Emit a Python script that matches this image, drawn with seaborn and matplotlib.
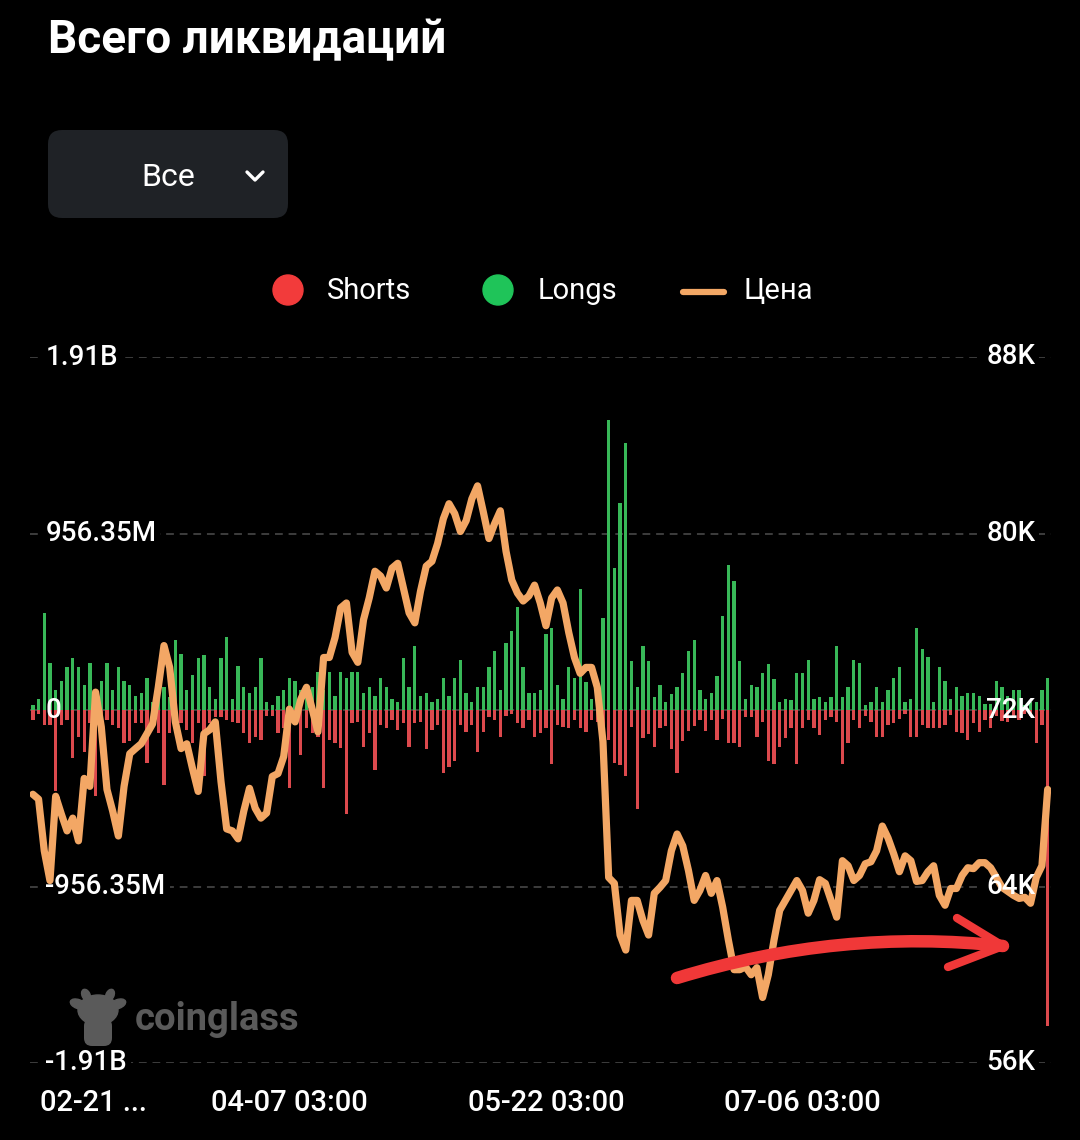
import numpy as np
import pandas as pd
import matplotlib
matplotlib.use("Agg")
import matplotlib.pyplot as plt
import seaborn as sns
from matplotlib.patches import FancyBboxPatch, Circle, Ellipse, PathPatch
from matplotlib.path import Path
from matplotlib.lines import Line2D
from matplotlib.transforms import Affine2D, blended_transform_factory, ScaledTranslation

# ---------------- data ----------------
title = "Всего ликвидаций"
selector = "Все"
legend_names = ["Shorts", "Longs", "Цена"]
x_tick_labels = ["02-21 ...", "04-07 03:00", "05-22 03:00", "07-06 03:00"]
left_tick_values = [1.9127e9, 956.35e6, 0, -956.35e6, -1.9127e9]
left_tick_labels = ["1.91B", "956.35M", "0", "-956.35M", "-1.91B"]
right_tick_values = [88000, 80000, 72000, 64000, 56000]
right_tick_labels = ["88K", "80K", "72K", "64K", "56K"]

# daily long liquidations, millions USD
longs_m = [25, 57, 527, 252, 106, 156, 235, 283, 235, 138,
           252, 115, 156, 252, 106, 235, 156, 138, 75, 90,
           172, 43, 124, 124, 70, 381, 303, 106, 188, 283,
           299, 124, 59, 283, 398, 59,
           236, 124, 90, 124, 283, 41, 25, 75, 106, 172,
           156, 106, 90, 124, 204, 106, 204, 75, 204, 172,
           204, 204, 90, 124, 75, 172, 124, 57, 41, 283,
           124, 347, 75, 90, 41,
           57, 172, 75, 172, 269, 90, 41, 124, 124, 235,
           317, 106, 365, 430, 559, 235, 90, 90, 106, 414,
           446, 138, 57, 235, 172, 655, 154, 57, 75, 496,
           1574, 768, 1123, 1445, 267, 124,
           347, 267, 73, 138, 41, 88, 124, 202, 317, 380,
           106, 57, 90, 186, 509, 786, 700, 267, 60, 138,
           122, 201, 249, 170, 41, 59, 56, 202, 202, 269,
           57, 73, 41, 73, 347,
           73, 124, 270, 252, 27, 41, 124, 41, 106, 172,
           235, 41, 59, 446, 329, 285, 41, 235, 156, 59,
           124, 75, 90, 90, 75, 34, 34, 156, 124, 75,
           106, 106, 25, 41, 41, 106, 172]

# daily short liquidations, millions USD
shorts_m = [52, 20, 82, 82, 440, 82, 52, 261, 145, 227,
            73, 467, 73, 52, 82, 100, 181, 167, 73, 73,
            288, 52, 127, 405, 127, 109, 73, 109, 181, 73,
            360, 73, 38, 38, 52, 64,
            70, 127, 181, 145, 163, 34, 34, 127, 100, 423,
            73, 244, 100, 127, 145, 423, 163, 181, 208, 566,
            73, 64, 199, 127, 324, 82, 100, 55, 109, 73,
            199, 73, 64, 213, 109,
            82, 342, 310, 279, 82, 118, 82, 229, 118, 38,
            52, 145, 34, 20, 70, 100, 52, 145, 127, 100,
            292, 82, 91, 100, 52, 100, 118, 55, 64, 145,
            163, 288, 297, 360, 91, 539,
            150, 131, 199, 100, 86, 213, 342, 167, 113, 88,
            52, 115, 56, 163, 47, 181, 181, 199, 40, 38,
            145, 66, 279, 294, 199, 154, 100, 294, 100, 56,
            100, 133, 52, 38, 66,
            292, 181, 55, 100, 34, 64, 145, 145, 82, 70,
            47, 20, 145, 145, 82, 100, 100, 100, 82, 29,
            118, 127, 163, 70, 118, 55, 100, 34, 60, 64,
            38, 55, 20, 34, 181, 82, 1710]

# price, USD
price = [68180, 67960, 65620, 64270, 68090, 67280, 66520, 67100, 66070, 68900,
         68540, 72810, 71240, 68400, 67420, 66290, 68540, 70020, 70250, 70470,
         70920, 71370, 73030, 74920, 73930, 71460, 70250, 70470, 69350, 68310,
         70920, 71100, 71460, 68760, 66610, 66520, 66160, 67420, 68450, 67550,
         67100, 67330, 68990, 69120, 69890, 72040, 71460, 72490, 73030, 72040,
         71010, 74380, 74380, 75280, 76630, 76850, 74610, 74160, 76090, 77080,
         78290, 78070, 77530, 78430, 78650, 77530, 76400, 75950, 77390, 78520,
         78740, 79550, 80670, 81350, 80900, 80090, 80580, 81570, 82160, 80990,
         79770, 80450, 81030, 79190, 77890, 77300, 76940, 77170, 77660, 76850,
         75820, 77080, 77440, 76850, 75510, 74380, 73660, 73930, 73930, 73030,
         70560, 64410, 64140, 61800, 61120, 63370, 63370, 62470, 61800, 63690,
         63960, 64270, 65620, 66380, 65840, 64720, 63370, 63820, 64500, 63690,
         64270, 63060, 61570, 60230, 60230, 60360, 60000, 60320, 58970, 60000,
         61570, 62920, 63370, 63820, 64270, 63820, 62790, 63370, 64310, 64140,
         63370, 62610, 65170, 64940, 64270, 64500, 65030, 65120, 65620, 66740,
         66200, 65480, 64670, 65390, 65170, 64230, 64270, 64670, 64940, 63600,
         63150, 63910, 63910, 64500, 64850, 64810, 65080, 65080, 64850, 64410,
         63960, 63780, 63600, 63460, 63510, 63240, 64410, 64940, 68400]

# ---------------- style ----------------
W, H = 1080, 1140
BG = "black"
GREEN_BAR = "#38b858"
RED_BAR = "#dc494d"
ORANGE = "#f3a765"
GRID = "#3d3d3d"

sns.set_theme(style="dark", rc={"axes.facecolor": BG, "figure.facecolor": BG})
plt.rcParams["font.family"] = ["Roboto", "DejaVu Sans"]

fig = plt.figure(figsize=(W / 100, H / 100), dpi=100, facecolor=BG)
px = Affine2D().scale(1 / W, -1 / H).translate(0, 1) + fig.transFigure

n = len(price)
df = pd.DataFrame({
    "day": np.arange(n),
    "longs": np.array(longs_m) * 1e6,
    "shorts": -np.array(shorts_m) * 1e6,
    "price": price,
})

ax = fig.add_axes([30 / W, 77 / H, 1020.5 / W, 706 / H])
ax.set_facecolor(BG)

for v in left_tick_values:
    ax.axhline(v, color=GRID, lw=1.4, ls=(0, (4, 3)), zorder=0.5)

sns.barplot(data=df, x="day", y="longs", native_scale=True, color=GREEN_BAR,
            saturation=1, width=0.58, errorbar=None, linewidth=0, ax=ax, zorder=2)
sns.barplot(data=df, x="day", y="shorts", native_scale=True, color=RED_BAR,
            saturation=1, width=0.58, errorbar=None, linewidth=0, ax=ax, zorder=2)

ax.set_xlim(-0.5, n - 0.5)
ax.set_ylim(left_tick_values[-1], left_tick_values[0])
ax.set_xlabel("")
ax.set_ylabel("")
ax.set_yticks([])
for s in ax.spines.values():
    s.set_visible(False)
ax.grid(False)

tick_pos = list(range(0, n, 45))[:len(x_tick_labels)]
ax.set_xticks(tick_pos)
ax.set_xticklabels(x_tick_labels, color="white", fontsize=21, fontweight="medium")
ax.tick_params(axis="x", length=0, pad=19)
first = ax.get_xticklabels()[0]
first.set_ha("left")
first.set_transform(first.get_transform() + ScaledTranslation(0.07, 0, fig.dpi_scale_trans))

ax2 = ax.twinx()
sns.lineplot(data=df, x="day", y="price", color=ORANGE, lw=5.2, ax=ax2,
             legend=False, solid_joinstyle="round", solid_capstyle="round")
ax2.set_ylim(right_tick_values[-1], right_tick_values[0])
ax2.set_xlim(-0.5, n - 0.5)
ax2.set_ylabel("")
ax2.set_xlabel("")
ax2.set_yticks([])
ax2.grid(False)
for s in ax2.spines.values():
    s.set_visible(False)

# axis value labels: a black mask under the bars (cuts the dashed grid),
# and the white text itself on top of everything
tl_lo = blended_transform_factory(ax.transAxes, ax.transData)
tl_hi = blended_transform_factory(ax2.transAxes, ax.transData)
tr_lo = blended_transform_factory(ax.transAxes, ax2.transData)
tr_hi = blended_transform_factory(ax2.transAxes, ax2.transData)
lab_kw = dict(fontsize=20, fontweight="medium", va="center")
mask = dict(boxstyle="square,pad=0.15", fc=BG, ec="none")
for v, lab in zip(left_tick_values, left_tick_labels):
    ax.text(0.015, v, lab, transform=tl_lo, color=BG, ha="left", zorder=1, bbox=mask, **lab_kw)
    ax2.text(0.015, v, lab, transform=tl_hi, color="white", ha="left", zorder=10, **lab_kw)
for v, lab in zip(right_tick_values, right_tick_labels):
    ax.text(0.985, v, lab, transform=tr_lo, color=BG, ha="right", zorder=1, bbox=mask, **lab_kw)
    ax2.text(0.985, v, lab, transform=tr_hi, color="white", ha="right", zorder=10, **lab_kw)

# ---------------- header ----------------
fig.text(48, 40, title, transform=px, color="white", fontsize=33,
         fontweight="bold", ha="left", va="center")

box = FancyBboxPatch((48, 130), 240, 88, boxstyle="round,pad=0,rounding_size=14",
                     fc="#1f2226", ec="none", transform=px)
fig.add_artist(box)
fig.text(168, 177, selector, transform=px, color="white", fontsize=23,
         ha="center", va="center")
fig.add_artist(Line2D([247, 255, 263], [172, 180, 172], transform=px, color="white",
                      lw=2.4, solid_capstyle="round", solid_joinstyle="round"))

# legend
fig.add_artist(Circle((288, 290), 15, transform=px, color="#f23b3b"))
fig.text(327, 291, legend_names[0], transform=px, color="white", fontsize=21, va="center")
fig.add_artist(Circle((498, 290), 15, transform=px, color="#1fc459"))
fig.text(538, 291, legend_names[1], transform=px, color="white", fontsize=21, va="center")
fig.add_artist(Line2D([683, 724], [292, 292], transform=px, color=ORANGE, lw=4.5,
                      solid_capstyle="round"))
fig.text(743, 291, legend_names[2], transform=px, color="white", fontsize=21, va="center")

# watermark
WM = "#5a5a5a"
fig.add_artist(Ellipse((98, 1010), 40, 30, transform=px, color=WM))
fig.add_artist(Ellipse((78, 1004), 16, 9, angle=20, transform=px, color=WM))
fig.add_artist(Ellipse((118, 1004), 16, 9, angle=-20, transform=px, color=WM))
fig.add_artist(Ellipse((86, 995), 8, 12, angle=-25, transform=px, color=WM))
fig.add_artist(Ellipse((110, 995), 8, 12, angle=25, transform=px, color=WM))
fig.add_artist(FancyBboxPatch((84, 1018), 28, 28, boxstyle="round,pad=0,rounding_size=8",
                              fc=WM, ec="none", transform=px))
fig.text(135, 1020, "coinglass", transform=px, color=WM, fontsize=27.5,
         fontweight="bold", ha="left", va="center")

# hand-drawn red arrow annotation
RED_INK = "#f03838"
curve = Path([(677, 978), (840, 928), (1003, 946)],
             [Path.MOVETO, Path.CURVE3, Path.CURVE3])
fig.add_artist(PathPatch(curve, transform=px, fill=False, ec=RED_INK, lw=9,
                         capstyle="round"))
fig.add_artist(Line2D([957, 1003, 948], [918, 946, 967], transform=px, color=RED_INK,
                      lw=6, solid_capstyle="round", solid_joinstyle="round"))

fig.savefig("out.png", dpi=100, facecolor=BG)
